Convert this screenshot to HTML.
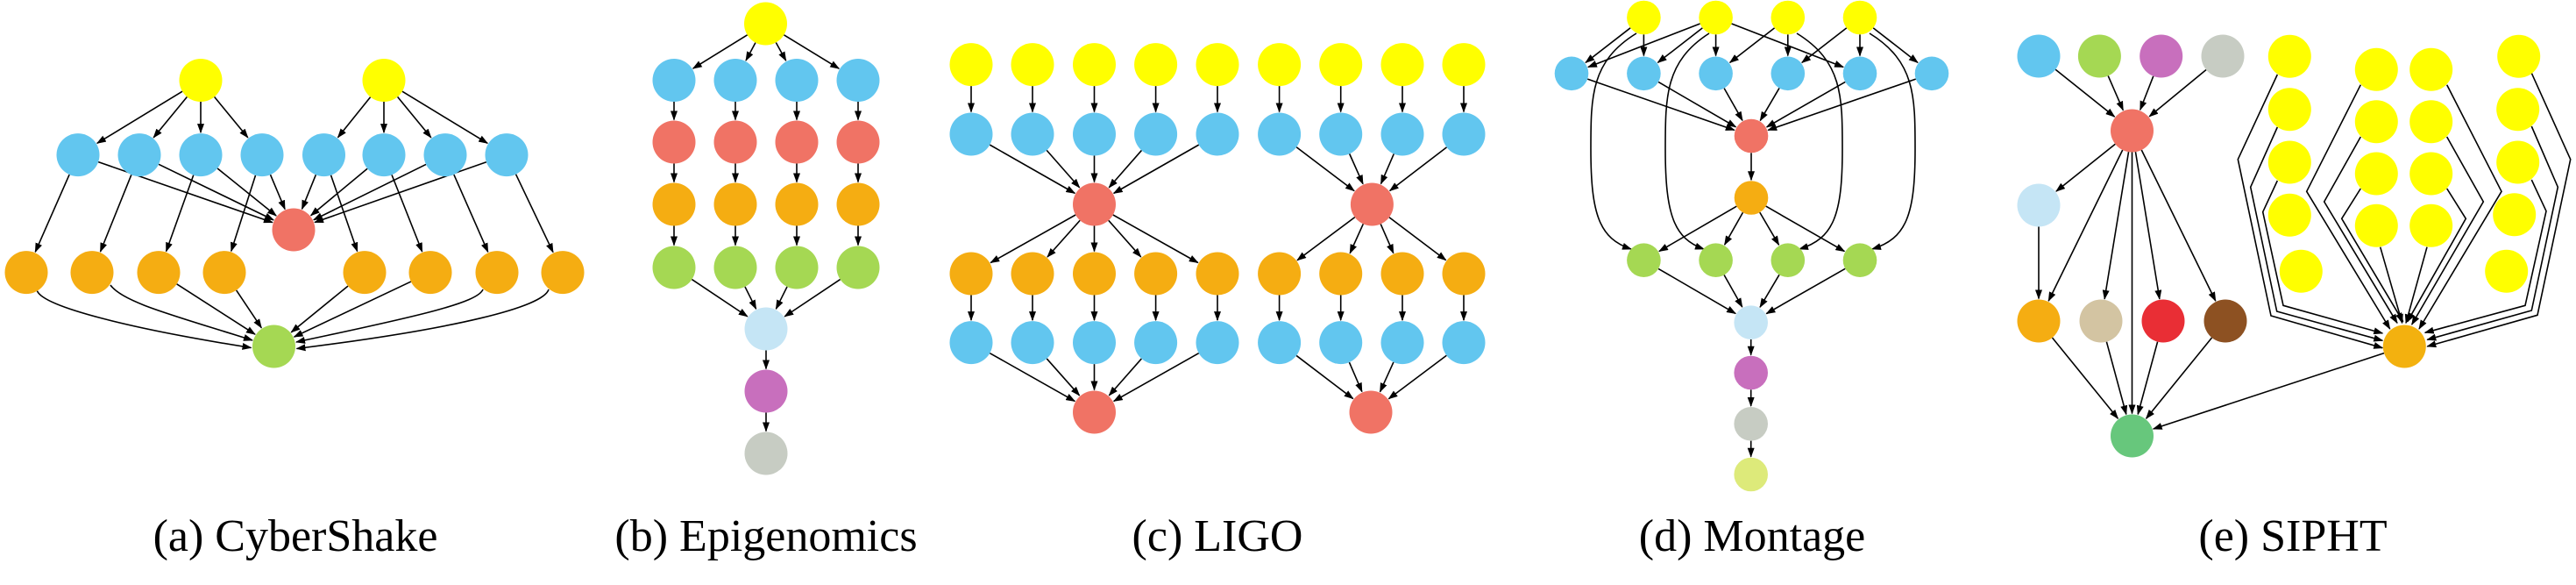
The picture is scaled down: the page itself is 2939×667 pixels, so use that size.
<!DOCTYPE html>
<html><head><meta charset="utf-8">
<style>
html,body{margin:0;padding:0;background:#fff;}
body{position:relative;width:2939px;height:667px;overflow:hidden;}
svg{display:block;position:absolute;left:0;top:0;}
.cap{position:absolute;top:582px;width:500px;margin-left:-250px;text-align:center;font-family:"Liberation Serif","DejaVu Serif","Times New Roman",Times,serif;font-size:52px;line-height:60px;color:#000;white-space:nowrap;}
</style></head>
<body>
<svg id="s" width="2939" height="667" viewBox="0 0 2939 667" xmlns="http://www.w3.org/2000/svg">
<defs>
<marker id="a" markerUnits="userSpaceOnUse" markerWidth="11" markerHeight="8" refX="10" refY="4" orient="auto">
<path d="M0,0 L11,4 L0,8 z" fill="#000"/>
</marker>
</defs>
<g id="edges" fill="none" stroke="#000" stroke-width="1.6"></g>
<g id="nodes"></g>
</svg>
<div class="cap" style="left:337px">(a) CyberShake</div>
<div class="cap" style="left:874px">(b) Epigenomics</div>
<div class="cap" style="left:1389px">(c) LIGO</div>
<div class="cap" style="left:1999px">(d) Montage</div>
<div class="cap" style="left:2616px">(e) SIPHT</div>
<script>
var NS="http://www.w3.org/2000/svg";
var E=document.getElementById("edges"),N=document.getElementById("nodes");
var C={Y:"#FFFF00",B:"#62C6EF",R:"#F07365",O:"#F5AD12",G:"#A5D853",LB:"#C5E5F5",P:"#C86FBD",GR:"#C7CCC3",PG:"#DDEA7A",SG:"#67C77C",T:"#D3C4A2",RR:"#E92E35",BR:"#8D5122",HO:"#F3B10F"};
function n(x,y,c,r){r=r||24.5;var e=document.createElementNS(NS,"ellipse");e.setAttribute("cx",x);e.setAttribute("cy",y);e.setAttribute("rx",r);e.setAttribute("ry",r);e.setAttribute("fill",C[c]);N.appendChild(e);return {x:x,y:y,r:r};}
function ed(a,b){var dx=b.x-a.x,dy=b.y-a.y,L=Math.sqrt(dx*dx+dy*dy),ux=dx/L,uy=dy/L;
var l=document.createElementNS(NS,"line");l.setAttribute("x1",a.x+ux*a.r);l.setAttribute("y1",a.y+uy*a.r);l.setAttribute("x2",b.x-ux*(b.r+1));l.setAttribute("y2",b.y-uy*(b.r+1));l.setAttribute("marker-end","url(#a)");E.appendChild(l);}
function p(d,arrow){var l=document.createElementNS(NS,"path");l.setAttribute("d",d);if(arrow!==false)l.setAttribute("marker-end","url(#a)");E.appendChild(l);}
var i;
/* CyberShake */
var cy=[n(229,91.5,"Y"),n(438,91.5,"Y")];
var cbx=[89,159,229,299,369.5,438,508,578],cox=[30,105,181,256,416,491,567,642];
var cb=cbx.map(function(x){return n(x,176.6,"B");});
var cr=n(335,262,"R");
var co=cox.map(function(x){return n(x,310.6,"O");});
var cg=n(312.5,395,"G");
for(i=0;i<8;i++){ed(cy[i<4?0:1],cb[i]);ed(cb[i],cr);ed(cb[i],co[i]);}
p("M42.4,331.7 C50,350 150,375 286.5,396.5");
p("M126,325 C140,345 200,360 288,388");
ed(co[2],cg);ed(co[3],cg);ed(co[4],cg);ed(co[5],cg);
p("M551,330 C545,345 480,360 338,390");
p("M626,330 C620,350 520,375 338.5,397.5");
/* Epigenomics */
var ey=n(873.5,27,"Y");
var ex=[769,839,909,979];
var rows=[[91.5,"B"],[162,"R"],[233,"O"],[305,"G"]];
var el=n(874,375,"LB");
ex.forEach(function(x){var prev=ey;rows.forEach(function(r){var k=n(x,r[0],r[1]);ed(prev,k);prev=k;});ed(prev,el);});
var ep=n(874,446,"P"),eg=n(874,517,"GR");ed(el,ep);ed(ep,eg);
/* LIGO */
var lx=[1108,1178,1248.5,1318.6,1389,1459.6,1529.7,1600,1670];
var r1=n(1248.5,233,"R"),r2=n(1565.4,233,"R"),b1=n(1248.5,470,"R"),b2=n(1564,470,"R");
lx.forEach(function(x,j){var y=n(x,73.6,"Y"),b=n(x,153,"B"),o=n(x,312,"O"),bb=n(x,390.6,"B");
ed(y,b);ed(b,j<5?r1:r2);ed(j<5?r1:r2,o);ed(o,bb);ed(bb,j<5?b1:b2);});
/* Montage */
var mr=19.3,mx=[1875.4,1957.6,2039.8,2122],mbx=[1793,1875.4,1957.6,2039.8,2122,2204];
var my=mx.map(function(x){return n(x,20,"Y",mr);});
var mb=mbx.map(function(x){return n(x,83.8,"B",mr);});
var mred=n(1998,155,"R",mr),mo=n(1998,225.5,"O",mr);
var mg=mx.map(function(x){return n(x,296.7,"G",mr);});
var ml=n(1997.7,367.7,"LB",mr),mp=n(1997.7,425,"P",mr),mgr=n(1997.7,483.3,"GR",mr),mpg=n(1997.7,541,"PG",mr);
ed(my[0],mb[0]);ed(my[0],mb[1]);
ed(my[1],mb[0]);ed(my[1],mb[1]);ed(my[1],mb[2]);ed(my[1],mb[4]);
ed(my[2],mb[2]);ed(my[2],mb[3]);
ed(my[3],mb[3]);ed(my[3],mb[4]);ed(my[3],mb[5]);
mb.forEach(function(b){ed(b,mred);});ed(mred,mo);
mg.forEach(function(g){ed(mo,g);ed(g,ml);});
ed(ml,mp);ed(mp,mgr);ed(mgr,mpg);
p("M1867,38 C1815,70 1815,110 1815,170 C1815,245 1825,272 1861,284");
p("M1950,38 C1900,70 1900,110 1900,170 C1900,245 1910,272 1944,284");
p("M2050,38 C2102,70 2102,110 2102,170 C2102,245 2092,272 2053,284");
p("M2133,38 C2185,70 2185,110 2185,170 C2185,245 2175,272 2136,284");
/* SIPHT */
var st=[n(2326,64,"B"),n(2395.4,64,"G"),n(2465.7,64,"P"),n(2536,64,"GR")];
var sr=n(2432.5,149,"R"),sl=n(2326,234,"LB");
var sb=[n(2326,366,"O"),n(2397,366,"T"),n(2468,366,"RR"),n(2539,366,"BR")];
var sg=n(2432.5,497,"SG");
st.forEach(function(k){ed(k,sr);});
ed(sr,sl);ed(sl,sb[0]);sb.forEach(function(k){ed(sr,k);ed(k,sg);});ed(sr,sg);
var ax=2612.3,bx=2711.3,cx=2773.7;
[64.3,124.7,185,245.3].forEach(function(y){n(ax,y,"Y");});n(2625.3,309.3,"Y");
[79.3,138.7,198,257.3].forEach(function(y){n(bx,y,"Y");n(cx,y,"Y");});
n(2873.7,64.3,"Y");n(2872.7,124.7,"Y");n(2872.7,185,"Y");n(2868.7,244.7,"Y");n(2859.7,309.3,"Y");
var ho=n(2743.3,395,"HO");
ed(ho,sg);
function pl(pts){var d="M"+pts.map(function(q){return (q[0]/3+2480).toFixed(1)+","+(q[1]/3).toFixed(1);}).join(" L");p(d);}
pl([[355,255],[220,545],[333,1080],[715,1190]]);
pl([[355,435],[263,640],[353,1065],[715,1165]]);
pl([[355,618],[305,725],[375,1045],[715,1140]]);
pl([[1225,250],[1358,545],[1245,1078],[868,1185]]);
pl([[1225,432],[1315,640],[1225,1062],[868,1162]]);
pl([[1225,615],[1275,722],[1203,1045],[860,1138]]);
pl([[640,290],[455,655],[740,1125]]);
pl([[640,468],[515,690],[765,1105]]);
pl([[640,645],[575,748],[785,1100]]);
pl([[707,845],[782,1105]]);
pl([[935,290],[1122,655],[840,1125]]);
pl([[935,468],[1060,690],[815,1110]]);
pl([[935,645],[1000,748],[800,1100]]);
pl([[867,845],[795,1105]]);
</script>
</body></html>
